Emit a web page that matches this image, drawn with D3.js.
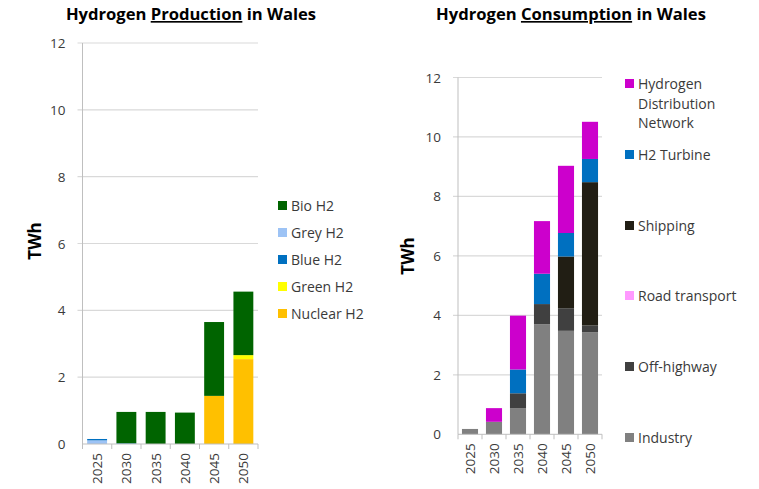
<!DOCTYPE html>
<html>
<head>
<meta charset="utf-8">
<script src="https://cdn.jsdelivr.net/npm/d3@7"></script>
<style>
  body { margin: 0; background: #fff; }
  text { font-family: "Open Sans", "Noto Sans", sans-serif; }
</style>
</head>
<body>
<div id="graph"></div>
<script>
// years shared by both charts
const years = ["2025", "2030", "2035", "2040", "2045", "2050"];
const yTicks = [0, 2, 4, 6, 8, 10, 12];

// production (TWh), bottom of stack first
const nuclearH2 = [0, 0, 0, 0, 1.44, 2.54];
const greenH2   = [0, 0, 0, 0, 0, 0.12];
const greyH2    = [0.11, 0, 0, 0, 0, 0];
const blueH2    = [0.04, 0.02, 0, 0, 0, 0];
const bioH2     = [0, 0.94, 0.96, 0.94, 2.21, 1.90];

// consumption (TWh), bottom of stack first
const industry    = [0.18, 0.42, 0.87, 3.70, 3.48, 3.43];
const offHighway  = [0, 0, 0.51, 0.68, 0.76, 0.23];
const roadTransport = [0, 0, 0, 0, 0, 0];
const shipping    = [0, 0, 0, 0, 1.74, 4.82];
const h2Turbine   = [0, 0, 0.80, 1.02, 0.79, 0.78];
const hdn         = [0, 0.46, 1.81, 1.77, 2.26, 1.25];

const svgWidth = 759;
const svgHeight = 489;

const svg = d3.select('#graph')
  .append('svg')
  .attr('width', svgWidth)
  .attr('height', svgHeight);

function drawChart(cfg) {
  const x = d3.scaleBand()
    .domain(years)
    .range([cfg.left, cfg.right])
    .paddingInner(cfg.pad)
    .paddingOuter(cfg.pad / 2);

  const y = d3.scaleLinear()
    .domain([0, 12])
    .range([cfg.bottom, cfg.top]);

  const g = svg.append('g');

  // title with underlined word
  const t = g.append('text')
    .attr('x', cfg.titleX)
    .attr('y', 20)
    .attr('text-anchor', 'middle')
    .attr('font-size', '16.6px')
    .attr('font-weight', 'bold')
    .attr('fill', '#000');
  t.append('tspan').text('Hydrogen ');
  t.append('tspan').attr('text-decoration', 'underline').text(cfg.word);
  t.append('tspan').text(' in Wales');

  // gridlines
  g.selectAll('.grid')
    .data(yTicks.slice(1))
    .enter()
    .append('line')
    .attr('x1', cfg.left - 5)
    .attr('x2', cfg.right)
    .attr('y1', d => y(d))
    .attr('y2', d => y(d))
    .attr('stroke', '#d9d9d9')
    .attr('stroke-width', 1.2);

  // y axis
  g.append('line')
    .attr('x1', cfg.left).attr('x2', cfg.left)
    .attr('y1', cfg.top).attr('y2', cfg.bottom)
    .attr('stroke', '#bfbfbf');

  g.selectAll('.ytick')
    .data(yTicks)
    .enter()
    .append('text')
    .attr('x', cfg.left - 17)
    .attr('y', d => y(d) + 5)
    .attr('text-anchor', 'end')
    .attr('font-size', '13.5px')
    .attr('fill', '#3a3a3a')
    .text(d => d);

  g.append('text')
    .attr('transform', `translate(${cfg.labelX}, ${cfg.labelY}) rotate(-90)`)
    .attr('text-anchor', 'middle')
    .attr('font-size', '17px')
    .attr('font-weight', 'bold')
    .attr('fill', '#000')
    .text('TWh');

  // stacked bars
  const rows = years.map((yr, i) => {
    const r = { year: yr };
    cfg.series.forEach(s => { r[s.name] = s.values[i]; });
    return r;
  });
  const stack = d3.stack().keys(cfg.series.map(s => s.name))(rows);
  const colorOf = {};
  cfg.series.forEach(s => { colorOf[s.name] = s.color; });

  g.selectAll('.layer')
    .data(stack)
    .enter()
    .append('g')
    .attr('fill', d => colorOf[d.key])
    .selectAll('rect')
    .data(d => d)
    .enter()
    .append('rect')
    .attr('x', d => x(d.data.year))
    .attr('y', d => y(d[1]))
    .attr('width', x.bandwidth())
    .attr('height', d => y(d[0]) - y(d[1]));

  // x axis line with ticks at category borders
  g.append('line')
    .attr('x1', cfg.left).attr('x2', cfg.right)
    .attr('y1', cfg.bottom).attr('y2', cfg.bottom)
    .attr('stroke', '#bfbfbf');
  const step = x.step();
  g.selectAll('.xtick')
    .data(d3.range(years.length + 1))
    .enter()
    .append('line')
    .attr('x1', i => cfg.left + i * step)
    .attr('x2', i => cfg.left + i * step)
    .attr('y1', cfg.bottom)
    .attr('y2', cfg.bottom + 5)
    .attr('stroke', '#bfbfbf');

  g.selectAll('.xlabel')
    .data(years)
    .enter()
    .append('text')
    .attr('transform', d => `translate(${x(d) + x.bandwidth() / 2 + 5}, ${cfg.bottom + 9}) rotate(-90)`)
    .attr('text-anchor', 'end')
    .attr('font-size', '13.5px')
    .attr('fill', '#3a3a3a')
    .text(d => d);

  // legend
  cfg.legend.forEach(item => {
    g.append('rect')
      .attr('x', cfg.legendX)
      .attr('y', item.y - 5)
      .attr('width', 9)
      .attr('height', 9)
      .attr('fill', colorOf[item.name]);
    const lt = g.append('text')
      .attr('x', cfg.legendX + 13)
      .attr('y', item.y + 5)
      .attr('font-size', '14px')
      .attr('fill', '#3a3a3a');
    item.lines.forEach((ln, k) => {
      lt.append('tspan')
        .attr('x', cfg.legendX + 13)
        .attr('dy', k === 0 ? 0 : 19.5)
        .text(ln);
    });
  });
}

drawChart({
  word: 'Production',
  titleX: 191,
  left: 82.5, right: 258, top: 43, bottom: 444,
  pad: 0.32,
  labelX: 41, labelY: 241,
  legendX: 278,
  series: [
    { name: 'Nuclear H2', values: nuclearH2, color: '#ffc000' },
    { name: 'Green H2', values: greenH2, color: '#ffff00' },
    { name: 'Grey H2', values: greyH2, color: '#9dc3f5' },
    { name: 'Blue H2', values: blueH2, color: '#0070c0' },
    { name: 'Bio H2', values: bioH2, color: '#006400' }
  ],
  legend: [
    { name: 'Bio H2', lines: ['Bio H2'], y: 206 },
    { name: 'Grey H2', lines: ['Grey H2'], y: 233 },
    { name: 'Blue H2', lines: ['Blue H2'], y: 260 },
    { name: 'Green H2', lines: ['Green H2'], y: 287 },
    { name: 'Nuclear H2', lines: ['Nuclear H2'], y: 314 }
  ]
});

drawChart({
  word: 'Consumption',
  titleX: 571,
  left: 458, right: 602, top: 77.5, bottom: 434.3,
  pad: 0.33,
  labelX: 414, labelY: 256,
  legendX: 625,
  series: [
    { name: 'Industry', values: industry, color: '#808080' },
    { name: 'Off-highway', values: offHighway, color: '#404040' },
    { name: 'Road transport', values: roadTransport, color: '#ff99ff' },
    { name: 'Shipping', values: shipping, color: '#211e14' },
    { name: 'H2 Turbine', values: h2Turbine, color: '#0070c0' },
    { name: 'Hydrogen Distribution Network', values: hdn, color: '#cc00cc' }
  ],
  legend: [
    { name: 'Hydrogen Distribution Network', lines: ['Hydrogen', 'Distribution', 'Network'], y: 84 },
    { name: 'H2 Turbine', lines: ['H2 Turbine'], y: 155 },
    { name: 'Shipping', lines: ['Shipping'], y: 226 },
    { name: 'Road transport', lines: ['Road transport'], y: 296 },
    { name: 'Off-highway', lines: ['Off-highway'], y: 367 },
    { name: 'Industry', lines: ['Industry'], y: 438 }
  ]
});
</script>
</body>
</html>
